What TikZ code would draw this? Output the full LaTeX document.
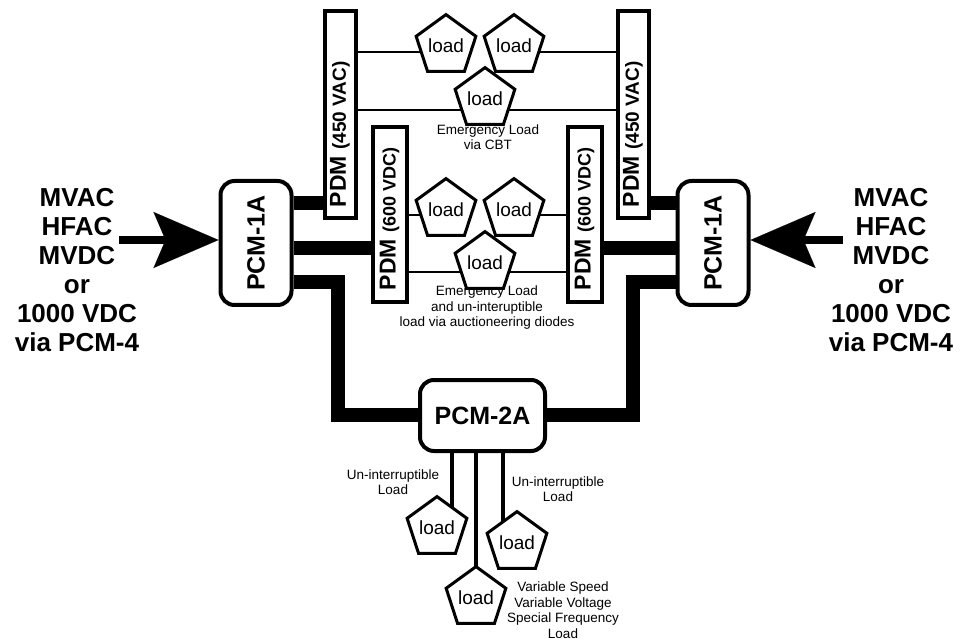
\documentclass[tikz,border=0pt]{standalone}
\usepackage{fontspec}
\setmainfont{Liberation Sans}
\usetikzlibrary{shapes.geometric,arrows.meta,backgrounds}
\begin{document}
\begin{tikzpicture}[x=1pt,y=-1pt,
  pcm/.style={draw,line width=4pt,fill=white,rounded corners=14pt,inner sep=0pt,font=\fontsize{25}{29}\selectfont\bfseries},
  pdm/.style={draw,line width=4pt,fill=white,inner sep=0pt},
  pdmlabel/.style={rotate=90,anchor=west,inner sep=0pt,font=\fontsize{23}{26}\selectfont\bfseries},
  load/.style={draw,line width=3pt,fill=white,regular polygon,regular polygon sides=5,minimum size=59pt,inner sep=0pt,font=\fontsize{19}{20}\selectfont},
  note/.style={align=center,inner sep=0pt,font=\fontsize{13.5}{15.5}\selectfont},
  source/.style={align=center,inner sep=0pt,font=\fontsize{26}{29}\selectfont\bfseries},
  bus/.style={line width=14pt,line join=miter},
  feeder/.style={line width=2pt},
  tap/.style={line width=3.5pt},
  supply/.style={line width=8pt,-{Stealth[length=65pt,width=56pt,inset=12pt,line width=0.1pt]}}]
\useasboundingbox (0,0) rectangle (962,639);
\coordinate (hiA) at (0,203);
\coordinate (midA) at (0,248);
\coordinate (loA) at (0,282);
\coordinate (dropL) at (338,415);
\coordinate (dropR) at (633,415);
\coordinate (rowA) at (0,52);
\coordinate (busE) at (0,110);
\coordinate (rowC) at (0,215);
\coordinate (busU) at (0,272);
\coordinate (tapA) at (452,0);
\coordinate (tapB) at (476,0);
\coordinate (tapC) at (503,0);
\coordinate (inL) at (119,240);
\coordinate (inR) at (843,240);

\node[pcm,minimum width=71pt,minimum height=124pt] (pcmL) at (256,243) {\rotatebox{90}{PCM-1A}};
\node[pcm,minimum width=71pt,minimum height=124pt] (pcmR) at (713,243) {\rotatebox{90}{PCM-1A}};
\node[pcm,minimum width=125pt,minimum height=71pt] (pcm2) at (482.5,415.5) {PCM-2A};

\node[pdm,minimum width=31pt,minimum height=207pt] (pdmA) at (340,115) {};
\node[pdm,minimum width=34pt,minimum height=175pt] (pdmC) at (389.5,215) {};
\node[pdm,minimum width=31pt,minimum height=207pt] (pdmB) at (633,115) {};
\node[pdm,minimum width=34pt,minimum height=175pt] (pdmD) at (584.5,215) {};
\node[pdmlabel] (pdmAt) at ([yshift=13pt]pdmA.south) {PDM {\fontsize{19}{20}\selectfont(450 VAC)}};
\node[pdmlabel] (pdmCt) at ([yshift=14pt]pdmC.south) {PDM {\fontsize{18}{20}\selectfont(600 VDC)}};
\node[pdmlabel] (pdmBt) at ([yshift=13pt]pdmB.south) {PDM {\fontsize{19}{20}\selectfont(450 VAC)}};
\node[pdmlabel] (pdmDt) at ([yshift=14pt]pdmD.south) {PDM {\fontsize{18}{20}\selectfont(600 VDC)}};

\node[load] (load1) at (446,46) {load};
\node[load] (load2) at (514,46) {load};
\node[load] (loadE) at (485,99) {load};
\node[load] (load3) at (446,210) {load};
\node[load] (load4) at (514,210) {load};
\node[load] (loadU) at (485,263) {load};
\node[load] (load5) at (437,528) {load};
\node[load] (load6) at (517,543) {load};
\node[load] (load7) at (476,598) {load};

\node[note] (noteCBT) at (488,137) {Emergency Load\\via CBT};
\node[note] (noteDiode) at (487,308) {Emergency Load\\and un-interuptible\\load via auctioneering diodes};
\node[note] (noteU1) at (393,482) {Un-interruptible\\Load};
\node[note] (noteU2) at (558,489) {Un-interruptible\\Load};
\node[note] (noteVar) at (563,610) {Variable Speed\\Variable Voltage\\Special Frequency\\Load};

\node[source] (srcL) at (77,270) {MVAC\\HFAC\\MVDC\\or\\1000 VDC\\via PCM-4};
\node[source] (srcR) at (891,270) {MVAC\\HFAC\\MVDC\\or\\1000 VDC\\via PCM-4};

\draw[supply] (inL) -- (pcmL.west |- inL);
\draw[supply] (inR) -- (pcmR.east |- inR);

\begin{scope}[on background layer]
\draw[bus] (pcmL.east |- hiA) -- (pdmA.west |- hiA);
\draw[bus] (pcmL.east |- midA) -- (pdmC.west |- midA);
\draw[bus] (pcmL.east |- loA) -| (dropL) -- (pcm2.west |- dropL);
\draw[bus] (pcmR.west |- hiA) -- (pdmB.east |- hiA);
\draw[bus] (pcmR.west |- midA) -- (pdmD.east |- midA);
\draw[bus] (pcmR.west |- loA) -| (dropR) -- (pcm2.east |- dropR);
\draw[feeder] (pdmA.east |- rowA) -- (load1 |- rowA);
\draw[feeder] (load2 |- rowA) -- (pdmB.west |- rowA);
\draw[feeder] (pdmA.east |- busE) -- (pdmB.west |- busE);
\draw[feeder] (pdmC.east |- rowC) -- (load3 |- rowC);
\draw[feeder] (load4 |- rowC) -- (pdmD.west |- rowC);
\draw[feeder] (pdmC.east |- busU) -- (pdmD.west |- busU);
\draw[tap] (pcm2.south -| tapA) -- (load5 -| tapA);
\draw[tap] (pcm2.south -| tapB) -- (load7 -| tapB);
\draw[tap] (pcm2.south -| tapC) -- (load6 -| tapC);
\end{scope}
\end{tikzpicture}
\end{document}
